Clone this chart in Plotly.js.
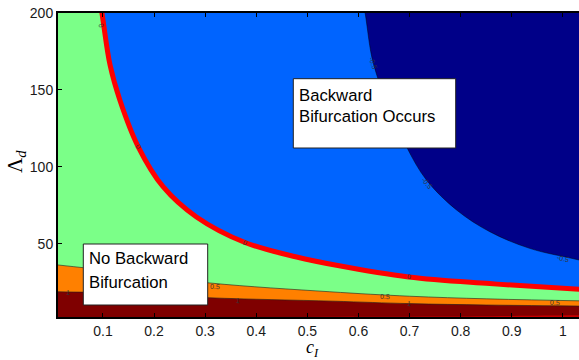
<!DOCTYPE html>
<html><head><meta charset="utf-8">
<script src="https://cdn.plot.ly/plotly-3.0.1.min.js"></script>
<style>html,body{margin:0;padding:0;overflow:hidden;background:#fff;width:579px;height:360px}#chart{width:600px;height:360px}</style>
</head><body><div id="chart"></div>
<script>
// ---- data: contour boundaries (c_I, Lambda_d) ----
const cLevelNeg05 = [0.613, 0.629, 0.662, 0.694, 0.733, 0.792, 0.857, 0.935, 1.032];
const lamLevelNeg05 = [200, 167.3, 137.0, 113.1, 91.5, 72.0, 57.9, 47.1, 39.5];
const cLevel0 = [0.098, 0.114, 0.133, 0.169, 0.218, 0.283, 0.378, 0.479, 0.557, 0.698, 0.857, 1.032];
const lamLevel0 = [200, 166.0, 143.5, 113.1, 87.0, 67.5, 50.9, 41.5, 36.1, 28.5, 24.2, 20.5];
const cLevel05 = [0.012, 0.133, 0.309, 0.544, 0.700, 0.850, 1.032];
const lamLevel05 = [36.3, 31.9, 24.6, 18.9, 16.0, 14.3, 13.0];
const cLevel1 = [0.012, 0.133, 0.309, 0.550, 0.700, 0.850, 1.032];
const lamLevel1 = [18.9, 18.1, 15.0, 12.8, 11.2, 10.3, 9.6];
const cLevel15 = [0.45, 0.76, 0.90, 1.032];
const lamLevel15 = [2.5, 2.8, 3.2, 3.6];
// contour labels
const labelC = [0.0975, 0.169, 0.378, 0.698, 0.320, 0.652, 0.984, 0.032, 0.364, 0.699, 0.629, 0.735, 1.000];
const labelLam = [192.2, 113.1, 50.9, 28.5, 22.2, 15.7, 12.0, 18.1, 13.5, 11.2, 167.3, 89.3, 40.6];
const labelText = ['0', '0', '0', '0', '0.5', '0.5', '0.5', '1', '1', '1', '-0.5', '-0.5', '-0.5'];
const labelAngle = [70, 60, 25, 8, 3, 3, 3, 2, 3, 3, 70, 50, 13];
const xTickVals = [0.1, 0.2, 0.3, 0.4, 0.5, 0.6, 0.7, 0.8, 0.9, 1];
const yTickVals = [50, 100, 150, 200];

// ---- layout geometry ----
const W = 600, H = 360, L = 58, R = 12, T = 13, B = 43;
const PW = W - L - R, PH = H - T - B;
const X0 = 0.012, X1 = X0 + PW / 511;
const Y0 = 2.5, Y1 = 200;
const px2x = px => (px - L) / PW;
const py2y = py => (H - B - py) / PH;
const TOP = 260, XLO = -0.15, XHI = 1.25;

function extendEnds(xs, ys, mode) {
  // linear continuation of the curve beyond the visible area (helper, offscreen)
  const n = xs.length;
  const x = xs.slice(), y = ys.slice();
  const s = (ys[1] - ys[0]) / (xs[1] - xs[0]);
  if (mode === 'top') { x.unshift(xs[0] + (TOP - ys[0]) / s); y.unshift(TOP); }
  else { x.unshift(XLO); y.unshift(ys[0] + s * (XLO - xs[0])); }
  const s2 = (ys[n - 1] - ys[n - 2]) / (xs[n - 1] - xs[n - 2]);
  x.push(XHI); y.push(ys[n - 1] + s2 * (XHI - xs[n - 1]));
  return [x, y];
}

const NAVY = '#000088', BLUE = '#0064FF', GREEN = '#7BFF88', ORANGE = '#FF8000', DARKRED = '#7F0000';

const [x0, y0] = extendEnds(cLevel0, lamLevel0, 'top');
const [xn, yn] = extendEnds(cLevelNeg05, lamLevelNeg05, 'top');
const [x5, y5] = extendEnds(cLevel05, lamLevel05, 'side');
const [x1, y1] = extendEnds(cLevel1, lamLevel1, 'side');
const [x15, y15] = extendEnds(cLevel15, lamLevel15, 'side');

const hid = {mode: 'lines', line: {width: 0}, hoverinfo: 'skip', showlegend: false};
const traces = [
  Object.assign({x: [x0[0], XHI + 0.3], y: [TOP, TOP]}, hid),
  {x: x0, y: y0, mode: 'lines', line: {width: 0, shape: 'spline'}, fill: 'tonexty', fillcolor: BLUE, hoverinfo: 'skip', showlegend: false},
  Object.assign({x: [xn[0], XHI + 0.3], y: [TOP, TOP]}, hid),
  {x: xn, y: yn, mode: 'lines', line: {width: 0.8, color: 'rgba(0,0,0,0.6)', shape: 'spline'}, fill: 'tonexty', fillcolor: NAVY, hoverinfo: 'skip', showlegend: false},
  {x: x5, y: y5, mode: 'lines', line: {width: 0.8, color: 'rgba(30,30,30,0.75)', shape: 'spline'}, fill: 'tozeroy', fillcolor: ORANGE, hoverinfo: 'skip', showlegend: false},
  {x: x1, y: y1, mode: 'lines', line: {width: 0.8, color: 'rgba(30,30,30,0.75)', shape: 'spline'}, fill: 'tozeroy', fillcolor: DARKRED, hoverinfo: 'skip', showlegend: false},
  {x: x15, y: y15, mode: 'lines', line: {width: 0, shape: 'spline'}, fill: 'tozeroy', fillcolor: '#C80000', hoverinfo: 'skip', showlegend: false},
  {x: x0, y: y0, mode: 'lines', line: {width: 5, color: '#FF0000', shape: 'spline'}, hoverinfo: 'skip', showlegend: false}
];

const annotations = labelText.map((t, i) => ({
  x: labelC[i], y: labelLam[i], xref: 'x', yref: 'y', text: t, showarrow: false,
  xanchor: 'center', yanchor: 'middle',
  textangle: labelAngle[i], font: {family: 'Liberation Sans, Arial', size: 7, color: '#333'}
}));

const boxFont = {family: 'Liberation Sans, Arial', size: 16.7, color: '#000'};
[[298.3, 95.3, 'Backward'], [298.3, 116.7, 'Bifurcation Occurs'],
 [88.3, 258, 'No Backward'], [88.3, 282.3, 'Bifurcation']].forEach(([px, py, t]) => {
  annotations.push({x: px2x(px), y: py2y(py), xref: 'paper', yref: 'paper', xanchor: 'left', yanchor: 'middle',
    text: t, showarrow: false, font: boxFont, borderpad: 0});
});
annotations.push({x: px2x(312), y: py2y(349), xref: 'paper', yref: 'paper', showarrow: false,
  xanchor: 'center', yanchor: 'middle', borderpad: 0,
  text: '<i>c</i><sub><i>I</i></sub>', font: {family: 'Liberation Serif, Times New Roman', size: 18, color: '#000'}});
annotations.push({x: px2x(16), y: py2y(162), xref: 'paper', yref: 'paper', showarrow: false, textangle: -90,
  xanchor: 'center', yanchor: 'middle',
  text: 'Λ<sub><i>d</i></sub>', font: {family: 'Liberation Serif, Times New Roman', size: 21, color: '#000'}});

const shapes = [
  {type: 'rect', xref: 'paper', yref: 'paper', x0: px2x(293.3), x1: px2x(455.7), y0: py2y(148), y1: py2y(78.7),
   fillcolor: '#fff', line: {color: '#222', width: 1}},
  {type: 'rect', xref: 'paper', yref: 'paper', x0: px2x(83.3), x1: px2x(207.7), y0: py2y(305), y1: py2y(244),
   fillcolor: '#fff', line: {color: '#222', width: 1}}
];

const axisCommon = {showgrid: false, zeroline: false, showline: true, linecolor: '#000', linewidth: 2,
  mirror: 'allticks', ticks: 'inside', ticklen: 4, tickcolor: '#000', tickwidth: 1,
  tickfont: {family: 'Liberation Sans, Arial', size: 14, color: '#1a1a1a'}};

const layout = {
  width: W, height: H, margin: {l: L, r: R, t: T, b: B, pad: 0},
  paper_bgcolor: '#fff', plot_bgcolor: GREEN, showlegend: false,
  xaxis: Object.assign({range: [X0, X1], tickvals: xTickVals, ticktext: xTickVals.map(String)}, axisCommon),
  yaxis: Object.assign({range: [Y0, Y1], tickvals: yTickVals}, axisCommon),
  annotations, shapes
};
Plotly.newPlot('chart', traces, layout, {staticPlot: true, displayModeBar: false});
</script></body></html>
